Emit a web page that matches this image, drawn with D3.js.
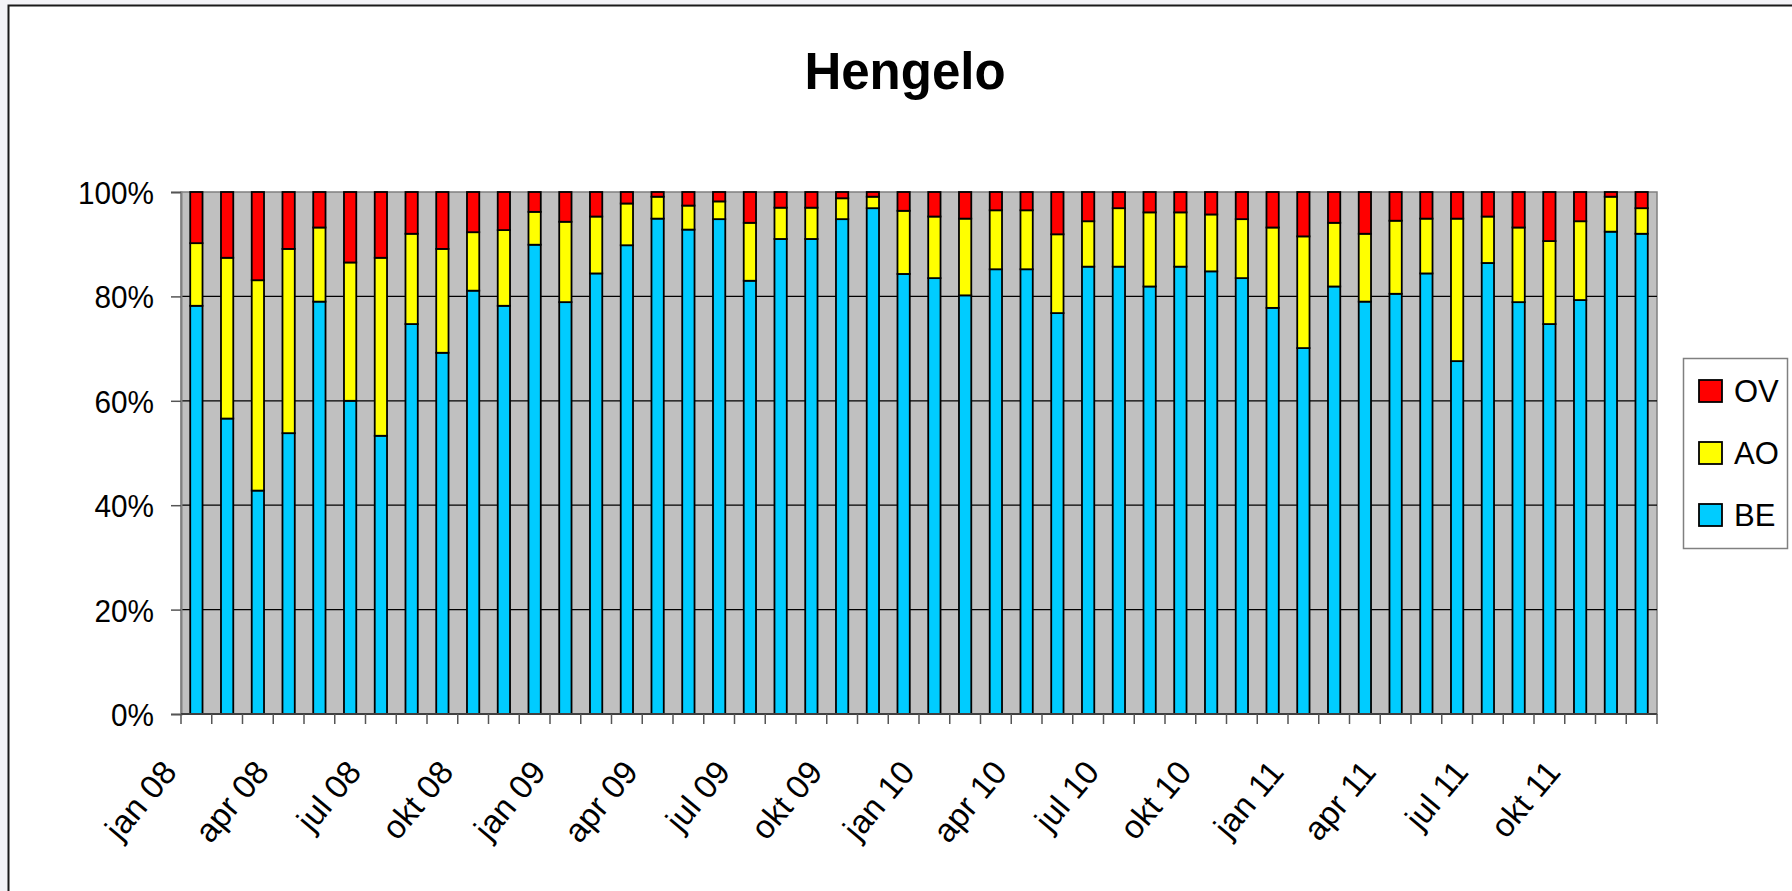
<!DOCTYPE html>
<html>
<head>
<meta charset="utf-8">
<script src="https://cdn.jsdelivr.net/npm/d3@7"></script>
<style>
  body { margin: 0; background: #f3f3f7; }
  svg { display: block; }
</style>
</head>
<body>
<svg id="chart" width="1792" height="891"></svg>
<script>
// month labels (dutch), every 3rd one gets shown on the axis
const monthNames = ["jan", "feb", "mrt", "apr", "mei", "jun", "jul", "aug", "sep", "okt", "nov", "dec"];
const years = ["08", "09", "10", "11"];
const months = [];
years.forEach(y => monthNames.forEach(m => months.push(m + " " + y)));

// shares per month, in percent
const BE = [78.2, 56.6, 42.8, 53.8, 79.0, 60.0, 53.3, 74.7, 69.2, 81.1, 78.2, 89.9,
            78.9, 84.4, 89.8, 94.9, 92.8, 94.8, 83.0, 91.0, 91.0, 94.8, 96.9, 84.3,
            83.5, 80.2, 85.2, 85.2, 76.8, 85.7, 85.7, 81.9, 85.7, 84.8, 83.5, 77.8,
            70.1, 81.9, 79.0, 80.5, 84.4, 67.6, 86.4, 78.9, 74.7, 79.3, 92.4, 92.0];
const AO = [12.0, 30.8, 40.3, 35.3, 14.2, 26.5, 34.1, 17.3, 19.9, 11.2, 14.5, 6.3,
            15.4, 10.9, 8.0, 4.2, 4.6, 3.4, 11.1, 6.0, 6.0, 4.0, 2.2, 12.1,
            11.8, 14.7, 11.3, 11.3, 15.1, 8.7, 11.2, 14.2, 10.4, 10.9, 11.3, 15.4,
            21.4, 12.2, 13.0, 14.0, 10.5, 27.3, 8.9, 14.3, 15.9, 15.1, 6.7, 4.9];
const OV = [9.8, 12.6, 16.9, 10.9, 6.8, 13.5, 12.6, 8.0, 10.9, 7.7, 7.3, 3.8,
            5.7, 4.7, 2.2, 0.9, 2.6, 1.8, 5.9, 3.0, 3.0, 1.2, 0.9, 3.6,
            4.7, 5.1, 3.5, 3.5, 8.1, 5.6, 3.1, 3.9, 3.9, 4.3, 5.2, 6.8,
            8.5, 5.9, 8.0, 5.5, 5.1, 5.1, 4.7, 6.8, 9.4, 5.6, 0.9, 3.1];

const seriesNames = ["BE", "AO", "OV"];
const colors = {BE: "#00ccff", AO: "#ffff00", OV: "#ff0000"};
const yTicks = [0, 0.2, 0.4, 0.6, 0.8, 1];

const rows = months.map((m, i) => ({month: m, BE: BE[i], AO: AO[i], OV: OV[i]}));

const svg = d3.select("#chart");

// chart area with the dark frame (right/bottom run off the page)
svg.append("rect")
  .attr("x", 8.5).attr("y", 5.5)
  .attr("width", 1800).attr("height", 900)
  .attr("fill", "#ffffff")
  .attr("stroke", "#1a1a1a")
  .attr("stroke-width", 2);

const plot = {left: 181, right: 1657, top: 192, bottom: 714};

const x = d3.scaleBand()
  .domain(months)
  .range([plot.left, plot.right])
  .paddingInner(0.6)
  .paddingOuter(0.3);

const y = d3.scaleLinear()
  .domain([0, 1])
  .range([plot.bottom, plot.top]);

const stacked = d3.stack()
  .keys(seriesNames)
  .offset(d3.stackOffsetExpand)(rows);

// title
svg.append("text")
  .attr("x", 905).attr("y", 89)
  .attr("text-anchor", "middle")
  .style("font", "bold 51px 'Liberation Sans', Arial, sans-serif")
  .text("Hengelo");

// grey plot background
svg.append("rect")
  .attr("x", plot.left).attr("y", plot.top)
  .attr("width", plot.right - plot.left)
  .attr("height", plot.bottom - plot.top)
  .attr("fill", "#c0c0c0")
  .attr("stroke", "#808080")
  .attr("stroke-width", 1.5);

// gridlines
svg.append("g")
  .selectAll("line")
  .data(yTicks.filter(t => t > 0 && t < 1))
  .join("line")
    .attr("x1", plot.left).attr("x2", plot.right)
    .attr("y1", d => y(d)).attr("y2", d => y(d))
    .attr("stroke", "#000")
    .attr("stroke-width", 1.2);

// y axis
const yAxis = svg.append("g")
  .attr("transform", `translate(${plot.left},0)`)
  .call(d3.axisLeft(y).tickValues(yTicks).tickFormat(d3.format(".0%")).tickSize(10).tickPadding(17));
yAxis.select(".domain").attr("stroke", "#808080").attr("stroke-width", 2);
yAxis.selectAll(".tick line").attr("stroke", "#555").attr("stroke-width", 1.5);
yAxis.selectAll("text")
  .style("font", "32px 'Liberation Sans', Arial, sans-serif")
  .attr("fill", "#000")
  .attr("dy", "0.36em");
// the percent labels look a bit squeezed in the original
yAxis.selectAll("text").each(function() {
  const len = this.getComputedTextLength();
  d3.select(this).attr("textLength", len * 0.93).attr("lengthAdjust", "spacingAndGlyphs");
});

// bars
svg.append("g")
  .selectAll("g")
  .data(stacked)
  .join("g")
    .attr("fill", d => colors[d.key])
  .selectAll("rect")
  .data(d => d)
  .join("rect")
    .attr("x", d => x(d.data.month))
    .attr("y", d => y(d[1]))
    .attr("width", x.bandwidth())
    .attr("height", d => y(d[0]) - y(d[1]))
    .attr("stroke", "#000")
    .attr("stroke-width", 1.8);

// x axis: ticks between the months
const step = x.step();
const xAxis = svg.append("g");
xAxis.append("line")
  .attr("x1", plot.left).attr("x2", plot.right)
  .attr("y1", plot.bottom).attr("y2", plot.bottom)
  .attr("stroke", "#404040")
  .attr("stroke-width", 2);
xAxis.selectAll(".tk")
  .data(d3.range(months.length + 1))
  .join("line")
    .attr("class", "tk")
    .attr("x1", i => plot.left + i * step).attr("x2", i => plot.left + i * step)
    .attr("y1", plot.bottom).attr("y2", plot.bottom + 10)
    .attr("stroke", "#555")
    .attr("stroke-width", 1.5);

xAxis.selectAll("text")
  .data(months.filter((m, i) => i % 3 === 0))
  .join("text")
    .attr("text-anchor", "end")
    .attr("transform", d => `translate(${x(d) + x.bandwidth() / 2 - 18},${plot.bottom + 59}) rotate(-50)`)
    .style("font", "33px 'Liberation Sans', Arial, sans-serif")
    .text(d => d);

// legend
const legend = svg.append("g");
legend.append("rect")
  .attr("x", 1683.5).attr("y", 358.5)
  .attr("width", 104).attr("height", 190)
  .attr("fill", "#fff")
  .attr("stroke", "#808080")
  .attr("stroke-width", 1.5);

const legendItems = ["OV", "AO", "BE"];
const ly = d3.scalePoint().domain(legendItems).range([391, 515]);

legend.selectAll("rect.sw")
  .data(legendItems)
  .join("rect")
    .attr("class", "sw")
    .attr("x", 1699).attr("y", d => ly(d) - 11)
    .attr("width", 23).attr("height", 22)
    .attr("fill", d => colors[d])
    .attr("stroke", "#000")
    .attr("stroke-width", 1.8);

legend.selectAll("text")
  .data(legendItems)
  .join("text")
    .attr("x", 1734).attr("y", d => ly(d) + 11)
    .style("font", "31px 'Liberation Sans', Arial, sans-serif")
    .text(d => d);
</script>
</body>
</html>
